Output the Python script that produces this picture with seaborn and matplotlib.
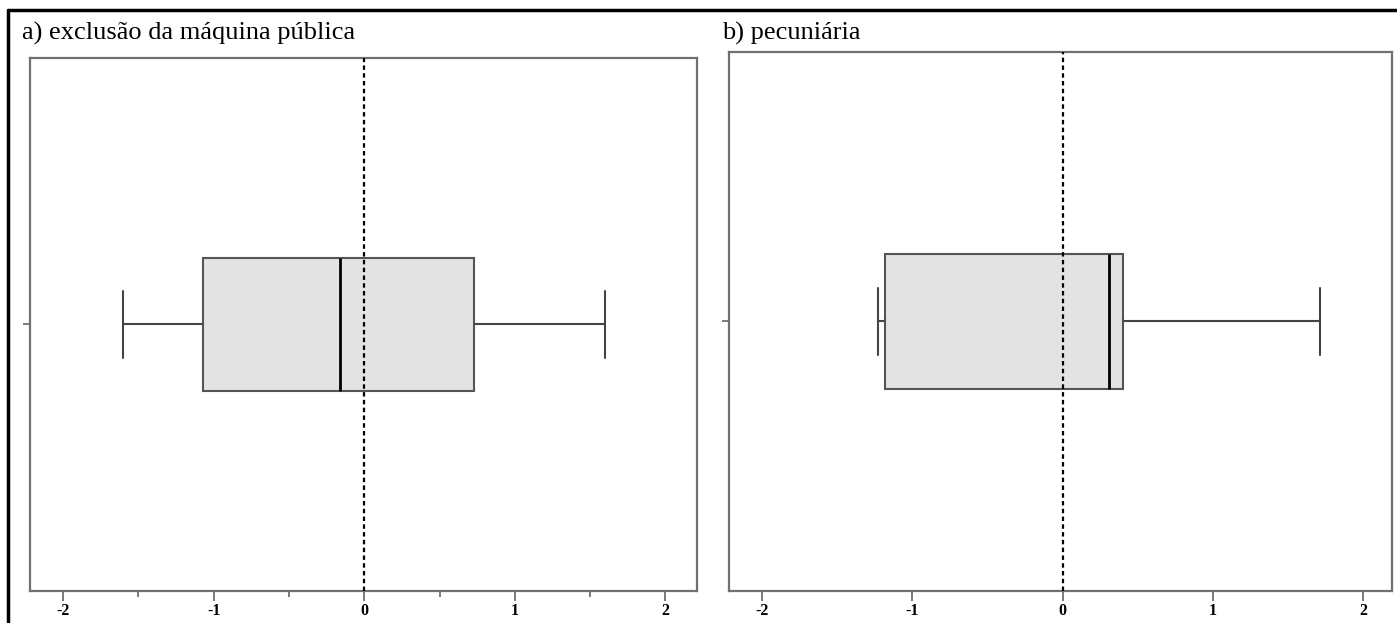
import numpy as np
import matplotlib.pyplot as plt
import seaborn as sns
from matplotlib.lines import Line2D
from matplotlib.ticker import MultipleLocator

# five-number summaries: min, Q1, median, Q3, max
exclusao = [-1.60, -1.07, -0.16, 0.73, 1.60]
pecuniaria = [-1.23, -1.18, 0.31, 0.40, 1.71]
titles = ['a) exclusão da máquina pública', 'b) pecuniária']
xticks = [-2, -1, 0, 1, 2]

sns.set_style('white', {'text.color': 'black', 'xtick.color': 'black',
                        'ytick.color': 'black'})
plt.rcParams['font.family'] = ['Liberation Serif', 'DejaVu Serif']

fig = plt.figure(figsize=(13.97, 6.23), dpi=100)
ax_a = fig.add_axes([0.0215, 0.0514, 0.4775, 0.8555])
ax_b = fig.add_axes([0.522, 0.0514, 0.4744, 0.8652])

panels = [(ax_a, exclusao, (-2.22, 2.21), True),
          (ax_b, pecuniaria, (-2.216, 2.19), False)]

for ax, vals, lims, minor in panels:
    sns.boxplot(x=vals, ax=ax, width=0.25, color='#e3e3e3',
                linecolor='#555555', linewidth=1.5,
                medianprops={'color': 'black', 'linewidth': 2},
                whiskerprops={'color': '#444444', 'linewidth': 1.5},
                capprops={'color': '#444444', 'linewidth': 1.5})
    ax.axvline(0, color='black', linestyle=(0, (2, 1.5)), linewidth=1.6, zorder=5)
    ax.set_xlim(*lims)
    ax.set_ylim(0.5, -0.5)
    ax.set_xticks(xticks)
    ax.set_xticklabels([str(t) for t in xticks], fontweight='bold', fontsize=11.5,
                       color='black')
    ax.set_yticks([0])
    ax.set_yticklabels([''])
    if minor:
        ax.xaxis.set_minor_locator(MultipleLocator(0.5))
        ax.tick_params(axis='x', which='minor', length=4, width=1.3,
                       color='#707070', direction='out', bottom=True)
    ax.tick_params(axis='x', which='major', length=7, width=1.3,
                   color='#707070', direction='out', bottom=True, pad=2)
    ax.tick_params(axis='y', length=5, width=1.3, color='#707070',
                   direction='out', left=True)
    for s in ax.spines.values():
        s.set_visible(True)
        s.set_color('#707070')
        s.set_linewidth(1.6)
    ax.set_xlabel('')
    ax.set_ylabel('')

fig.text(0.0155, 0.936, titles[0], fontsize=19, va='baseline', ha='left', color='black')
fig.text(0.5165, 0.936, titles[1], fontsize=19, va='baseline', ha='left', color='black')

# outer frame lines (top and left)
fig.add_artist(Line2D([0.0057, 1.0], [0.984, 0.984], color='black', linewidth=2.5,
                      transform=fig.transFigure))
fig.add_artist(Line2D([0.0057, 0.0057], [0.0, 0.984], color='black', linewidth=2.5,
                      transform=fig.transFigure))

fig.savefig('out.png', dpi=100)
